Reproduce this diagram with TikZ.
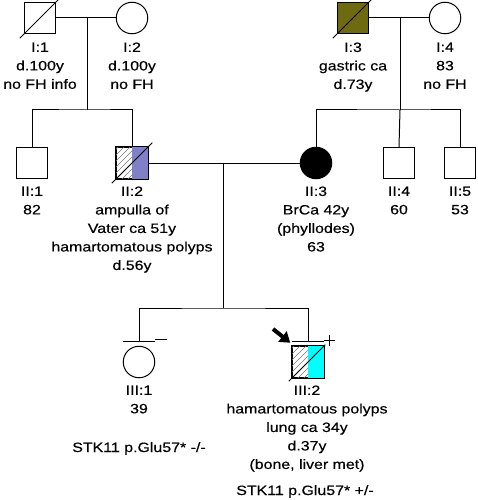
\documentclass[tikz,border=0pt]{standalone}
\usepackage{fontspec}
\setmainfont[FakeStretch=1.18,FakeBold=0.4]{Liberation Sans}
\usetikzlibrary{arrows.meta}
\definecolor{olivefill}{RGB}{110,106,18}
\definecolor{bluefill}{RGB}{128,128,200}
\definecolor{cyanfill}{RGB}{0,255,255}
\definecolor{hatchgray}{RGB}{120,120,120}
\tikzset{
  male/.style={draw, rectangle, minimum size=31.5pt, inner sep=0pt},
  female/.style={draw, circle, minimum size=31.5pt, inner sep=0pt},
  lbl/.style={anchor=north, align=center, inner sep=0pt, font=\fontsize{13.5}{18.5}\selectfont},
  gtxt/.style={anchor=base, inner sep=0pt, font=\fontsize{13.5}{18.5}\selectfont},
  hatch/.style={draw=hatchgray, line width=0.6pt},
  slash/.style={line width=0.8pt},
}
\begin{document}
\begin{tikzpicture}[x=1pt,y=-1pt,line width=1pt]
\useasboundingbox (0,0) rectangle (477,500);
% Generation I
\node[male] (i1) at (40,18) {};
\node[female] (i2) at (132,18) {};
\node[male, fill=olivefill] (i3) at (353,18) {};
\node[female] (i4) at (445,18) {};
\draw[slash] ([shift={(-4,4)}]i1.south west) -- ([shift={(4,-4)}]i1.north east);
\draw[slash] ([shift={(-4,4)}]i3.south west) -- ([shift={(4,-4)}]i3.north east);
\node[lbl] (li1) at (40,42) {I:1\\d.100y\\no FH info};
\node[lbl] (li2) at (132,42) {I:2\\d.100y\\no FH};
\node[lbl] (li3) at (353,42) {I:3\\gastric ca\\d.73y};
\node[lbl] (li4) at (445,42) {I:4\\83\\no FH};
\coordinate (m1) at (87,18);
\coordinate (s1) at (87,110);
\coordinate (m2) at (400,18);
\coordinate (s2) at (400,110);
\draw (i1.east) -- (i2.west);
\draw (i3.east) -- (i4.west);
\draw (m1) -- (s1);
\draw (m2) -- (s2);
% Generation II
\node[male] (ii1) at (32,163) {};
\node[male] (ii2) at (132,163) {};
\node[female, fill=black] (ii3) at (316,163) {};
\node[male] (ii4) at (399,163) {};
\node[male] (ii5) at (460,163) {};
\fill[bluefill] (ii2.north) rectangle (ii2.south east);
\begin{scope}
\clip (ii2.north west) rectangle (ii2.south);
\foreach \k in {-36,-30,...,18} \draw[hatch] ([xshift=\k pt]ii2.south west) -- ++(40,-40);
\end{scope}
\draw (ii2.north west) rectangle (ii2.south east);
\draw[slash] ([shift={(-4,4)}]ii2.south west) -- ([shift={(4,-4)}]ii2.north east);
\draw (ii1.north) |- (s1) -| (ii2.north);
\draw (ii3.north) |- (s2) -| (ii5.north);
\draw (s2) -- (ii4.north);
\draw (ii2.east) -- (ii3.west);
\node[lbl] (lii1) at (32,186) {II:1\\82};
\node[lbl] (lii2) at (132,186) {II:2\\ampulla of\\Vater ca 51y\\hamartomatous polyps\\d.56y};
\node[lbl] (lii3) at (316,186) {II:3\\BrCa 42y\\(phyllodes)\\63};
\node[lbl] (lii4) at (399,186) {II:4\\60};
\node[lbl] (lii5) at (460,186) {II:5\\53};
\coordinate (m3) at (223,163);
\coordinate (s3) at (223,308);
\draw (m3) -- (s3);
% Generation III
\node[female] (iii1) at (139,362) {};
\node[male] (iii2) at (308,362) {};
\fill[cyanfill] (iii2.north) rectangle (iii2.south east);
\begin{scope}
\clip (iii2.north west) rectangle (iii2.south);
\foreach \k in {-36,-30,...,18} \draw[hatch] ([xshift=\k pt]iii2.south west) -- ++(40,-40);
\end{scope}
\draw (iii2.north west) rectangle (iii2.south east);
\draw[slash] ([shift={(-3,3)}]iii2.south west) -- ([shift={(1,-1)}]iii2.north east);
\coordinate (t1) at ([yshift=4pt]iii1.north);
\coordinate (t2) at ([yshift=4pt]iii2.north);
\draw ([xshift=-16pt]t1) -- ([xshift=16pt]t1);
\draw ([xshift=-16pt]t2) -- ([xshift=16pt]t2);
\draw (t1) |- (s3) -| (t2);
\draw ([shift={(16,-2)}]t1) -- ++(12,0);
\draw ([shift={(21,-1.5)}]t2) ++(-5.5,0) -- ++(11,0) ([shift={(21,-1.5)}]t2) ++(0,-5.5) -- ++(0,11);
\coordinate (atail) at (273,329);
\coordinate (atip) at ([shift={(-1.5,-3)}]iii2.north west);
\draw[line width=4pt, -{Triangle[length=10pt,width=13pt]}] (atail) -- (atip);
\node[lbl] (liii1) at (139,385) {III:1\\39};
\node[lbl] (liii2) at (307,385) {III:2\\hamartomatous polyps\\lung ca 34y\\d.37y\\(bone, liver met)};
\node[gtxt] (g1) at (139,452) {STK11 p.Glu57* -/-};
\node[gtxt] (g2) at (305,495) {STK11 p.Glu57* +/-};
\end{tikzpicture}
\end{document}
